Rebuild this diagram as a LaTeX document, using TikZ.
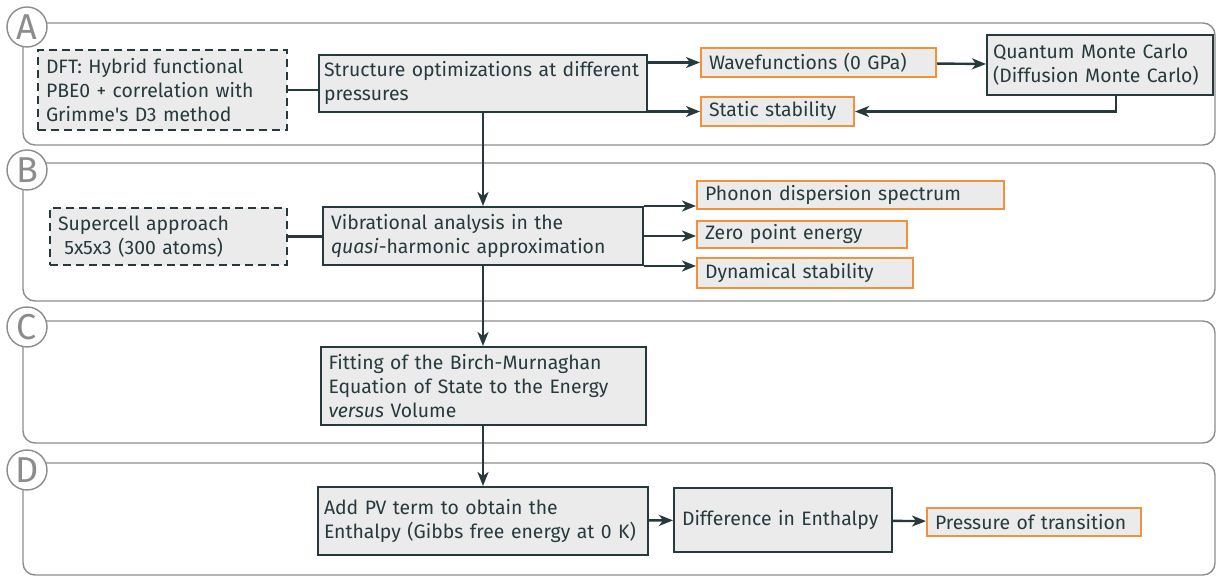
\documentclass[tikz,border=0pt]{standalone}
\usepackage{fontspec}
\setmainfont{Fira Sans}
\usepackage{tikz}
\usetikzlibrary{arrows.meta, positioning, calc}
\definecolor{slate}{RGB}{38,58,62}
\definecolor{boxgray}{RGB}{235,235,235}
\definecolor{orangeline}{RGB}{240,145,60}
\definecolor{panelgray}{RGB}{140,140,140}
\tikzstyle{block} = [draw=slate, line width=1pt, fill=boxgray, text=slate, align=left, inner xsep=4pt, inner ysep=2pt, font=\fontsize{9.7}{12}\selectfont]
\tikzstyle{source} = [block, dash pattern=on 4pt off 2.5pt]
\tikzstyle{outcome} = [block, draw=orangeline]
\tikzstyle{panel} = [draw=panelgray, line width=0.7pt, rounded corners=6pt]
\tikzstyle{tag} = [circle, draw=panelgray, line width=0.7pt, fill=white, text=panelgray, inner sep=0pt, minimum size=20pt, font=\fontsize{18}{18}\selectfont]
\tikzstyle{arr} = [-{Stealth[length=7pt, width=5.5pt, inset=2pt]}, draw=slate, line width=1.2pt]
\tikzstyle{link} = [draw=slate, line width=1.2pt]

\begin{document}
\begin{tikzpicture}[x=0.5pt, y=-0.5pt]
        \useasboundingbox (0,0) rectangle (1219,576);
        % panels
        \draw[panel] (23,23) rectangle (1215,145);
        \draw[panel] (23,163) rectangle (1215,301);
        \draw[panel] (23,321) rectangle (1215,443);
        \draw[panel] (23,463) rectangle (1215,575);
        \node[tag] (tagA) at (27,27) {A};
        \node[tag] (tagB) at (27,170) {B};
        \node[tag] (tagC) at (27,327) {C};
        \node[tag] (tagD) at (27,470) {D};
        % A
        \node[source, text width=116.5pt, minimum height=40pt] (dft) at (162.5,90) {DFT: Hybrid functional\\ PBE0 + correlation with\\ Grimme\textquotesingle s D3 method};
        \node[block, inner xsep=2.5pt, text width=159pt, minimum height=28.5pt] (struct) at (483,83.5) {Structure optimizations at different\\ pressures};
        \node[outcome, text width=109.5pt, minimum height=14.5pt] (wave) at (818.5,62.5) {Wavefunctions (0 GPa)};
        \node[outcome, text width=68.5pt, minimum height=14.5pt] (static) at (777.5,111.5) {Static stability};
        \node[block, inner xsep=3pt, text width=107pt, minimum height=30pt] (qmc) at (1100,65) {Quantum Monte Carlo\\ (Diffusion Monte Carlo)};
        \draw[link] (dft) -- (dft -| struct.west);
        \draw[arr] (wave.west -| struct.east) -- (wave.west);
        \draw[arr] (static.west -| struct.east) -- (static.west);
        \draw[arr] (wave) -- (qmc);
        \draw[arr] ([xshift=8pt]qmc.south) |- (static.east);
        % B
        \node[source, text width=110.5pt, minimum height=28.5pt] (supercell) at (168.5,236.5) {Supercell approach\\ \ 5x5x3 (300 atoms)};
        \node[block, text width=152pt, minimum height=29pt] (vib) at (483,236) {Vibrational analysis in the\\ \textit{quasi}-harmonic approximation};
        \node[outcome, text width=145.5pt, minimum height=14pt] (phonon) at (850.5,195) {Phonon dispersion spectrum};
        \node[outcome, text width=97pt, minimum height=13.5pt] (zpe) at (802,234.5) {Zero point energy};
        \node[outcome, text width=100pt, minimum height=15pt] (dyn) at (805,273) {Dynamical stability};
        \draw[arr] (struct) -- (vib);
        \draw[link] (supercell) -- (supercell -| vib.west);
        \draw[arr] (vib.north east) -- (vib.north east -| phonon.west);
        \draw[arr] (vib.east) -- (vib.east -| zpe.west);
        \draw[arr] (vib.south east) -- (vib.south east -| dyn.west);
        % C
        \node[block, text width=154.5pt, minimum height=39pt] (fit) at (483,386) {Fitting of the Birch-Murnaghan\\ Equation of State to the Energy\\ \textit{versus} Volume};
        \draw[arr] (vib) -- (fit);
        % D
        \node[block, inner xsep=3pt, text width=159pt, minimum height=34pt] (pv) at (483,521) {Add PV term to obtain the\\ Enthalpy (Gibbs free energy at 0 K)};
        \node[block, text width=101pt, minimum height=32pt] (diff) at (783,520) {Difference in Enthalpy};
        \node[outcome, text width=99pt, minimum height=14pt] (transition) at (1034,522) {Pressure of transition};
        \draw[arr] (fit) -- (pv);
        \draw[arr] (pv) -- (diff);
        \draw[arr] (diff) -- (transition);
    \end{tikzpicture}
\end{document}
